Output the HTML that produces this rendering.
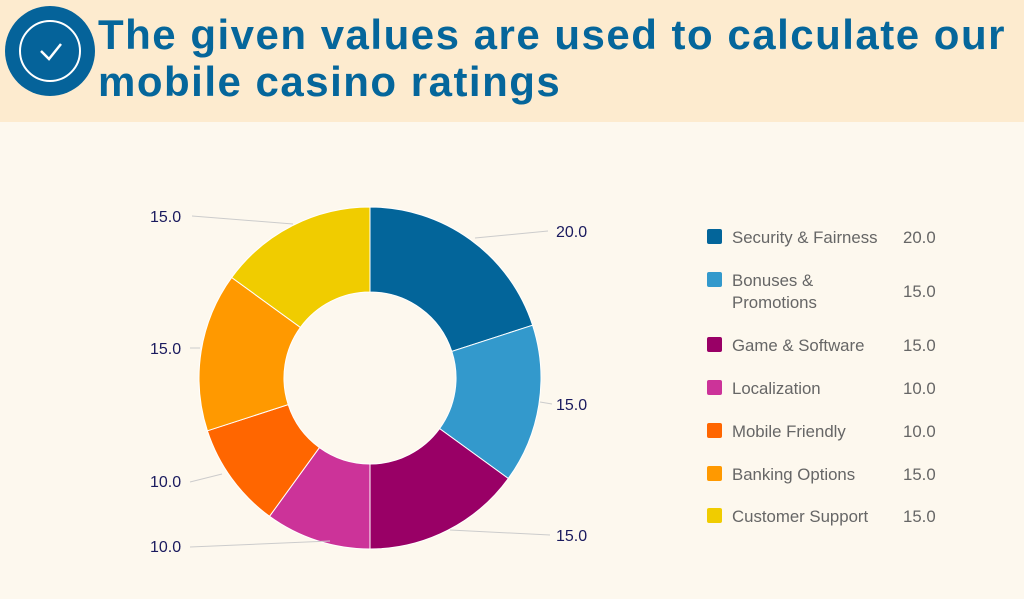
<!DOCTYPE html>
<html><head><meta charset="utf-8"><style>
body{margin:0;width:1024px;height:599px;overflow:hidden;background:#fdf8ee;font-family:"Liberation Sans",sans-serif}
.hdr{position:absolute;left:0;top:0;width:1024px;height:122px;background:#fdebcf}
.t{position:absolute;left:98px;top:11px;font-size:42px;font-weight:bold;color:#05669b;line-height:47px;letter-spacing:1.5px;white-space:nowrap}
</style></head><body>
<div class="hdr"></div>
<svg style="position:absolute;left:0;top:0" width="1024" height="599">
<circle cx="50" cy="51" r="45" fill="#05639a"/>
<circle cx="50" cy="51" r="30" fill="none" stroke="#fff" stroke-width="2"/>
<polyline points="41,51 49,59 61,44" fill="none" stroke="#fff" stroke-width="2.5"/>
<g stroke="#fff" stroke-width="1">
<path d="M370,207 A171,171 0 0 1 532.6,325.2 L451.8,351.4 A86,86 0 0 0 370,292Z" fill="#03659a"/>
<path d="M532.6,325.2 A171,171 0 0 1 508.3,478.5 L439.6,428.6 A86,86 0 0 0 451.8,351.4Z" fill="#3399cc"/>
<path d="M508.3,478.5 A171,171 0 0 1 370,549 L370,464 A86,86 0 0 0 439.6,428.6Z" fill="#990066"/>
<path d="M370,549 A171,171 0 0 1 269.5,516.3 L319.4,447.6 A86,86 0 0 0 370,464Z" fill="#cc3399"/>
<path d="M269.5,516.3 A171,171 0 0 1 207.4,430.8 L288.2,404.6 A86,86 0 0 0 319.4,447.6Z" fill="#ff6600"/>
<path d="M207.4,430.8 A171,171 0 0 1 231.7,277.5 L300.4,327.4 A86,86 0 0 0 288.2,404.6Z" fill="#ff9900"/>
<path d="M231.7,277.5 A171,171 0 0 1 370,207 L370,292 A86,86 0 0 0 300.4,327.4Z" fill="#f0cc00"/>
</g>
<g stroke="#ccc" stroke-width="1" fill="none">
<line x1="475" y1="238" x2="548" y2="231"/>
<line x1="540" y1="402" x2="552" y2="404"/>
<line x1="450" y1="530" x2="550" y2="535"/>
<line x1="192" y1="216" x2="293" y2="224"/>
<line x1="190" y1="348" x2="200" y2="348"/>
<line x1="190" y1="482" x2="222" y2="474"/>
<line x1="190" y1="547" x2="330" y2="541"/>
</g>
<g font-size="16" fill="#1a1a5e">
<text x="556" y="237">20.0</text><text x="556" y="410">15.0</text><text x="556" y="541">15.0</text>
<text x="150" y="222">15.0</text><text x="150" y="354">15.0</text><text x="150" y="487">10.0</text><text x="150" y="552">10.0</text>
</g>
<g font-size="16.8" fill="#666">
<rect x="707" y="229" width="15" height="15" rx="2" fill="#03659a"/><text x="732" y="243">Security &amp; Fairness</text><text x="903" y="243">20.0</text>
<rect x="707" y="272" width="15" height="15" rx="2" fill="#3399cc"/><text x="732" y="286">Bonuses &amp;</text><text x="732" y="308">Promotions</text><text x="903" y="297">15.0</text>
<rect x="707" y="337" width="15" height="15" rx="2" fill="#990066"/><text x="732" y="351">Game &amp; Software</text><text x="903" y="351">15.0</text>
<rect x="707" y="380" width="15" height="15" rx="2" fill="#cc3399"/><text x="732" y="394">Localization</text><text x="903" y="394">10.0</text>
<rect x="707" y="423" width="15" height="15" rx="2" fill="#ff6600"/><text x="732" y="437">Mobile Friendly</text><text x="903" y="437">10.0</text>
<rect x="707" y="466" width="15" height="15" rx="2" fill="#ff9900"/><text x="732" y="480">Banking Options</text><text x="903" y="480">15.0</text>
<rect x="707" y="508" width="15" height="15" rx="2" fill="#f0cc00"/><text x="732" y="522">Customer Support</text><text x="903" y="522">15.0</text>
</g>
</svg>
<div class="t">The given values are used to calculate our<br>mobile casino ratings</div>
</body></html>
